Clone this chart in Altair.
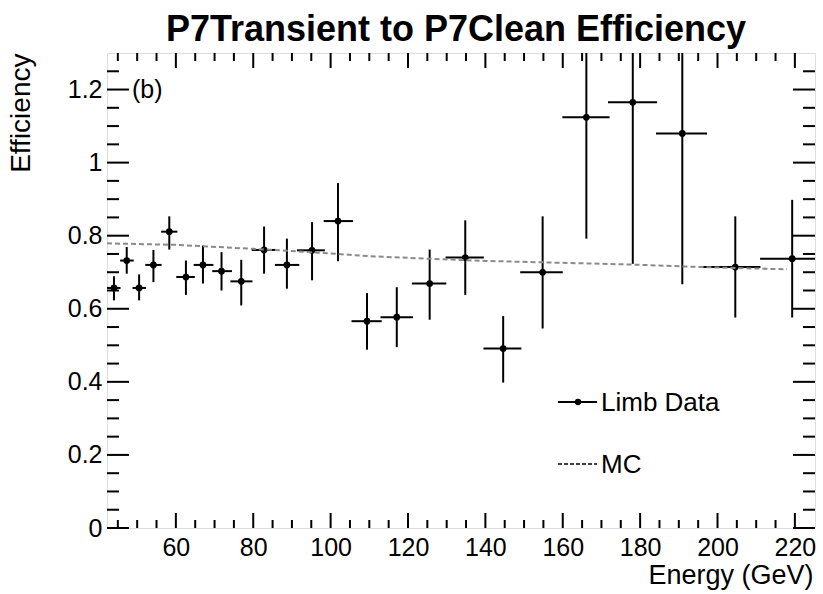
import altair as alt
import pandas as pd

# ---- data (values beyond the frame are cut at the frame edge) ----
energy = [44.0, 47.3, 50.5, 54.2, 58.3, 62.6, 67.0, 71.8, 76.9, 82.8, 88.7, 95.2,
          101.9, 109.4, 117.1, 125.6, 134.8, 144.6, 154.8, 166.1, 178.1, 190.9, 204.6, 219.3]
eff = [0.657, 0.732, 0.657, 0.720, 0.811, 0.687, 0.720, 0.703, 0.675, 0.761, 0.720, 0.760,
       0.840, 0.566, 0.577, 0.669, 0.740, 0.491, 0.700, 1.124, 1.165, 1.080, 0.714, 0.737]
eff_lo = [0.623, 0.696, 0.623, 0.673, 0.762, 0.638, 0.669, 0.650, 0.609, 0.696, 0.655, 0.678,
          0.730, 0.488, 0.495, 0.570, 0.638, 0.398, 0.546, 0.792, 0.723, 0.667, 0.576, 0.576]
eff_hi = [0.689, 0.769, 0.694, 0.761, 0.853, 0.732, 0.773, 0.755, 0.734, 0.825, 0.792, 0.837,
          0.944, 0.643, 0.659, 0.762, 0.842, 0.580, 0.853, 1.3, 1.3, 1.3, 0.853, 0.898]
bin_lo = [42.2, 45.6, 48.8, 52.1, 56.2, 60.1, 64.6, 69.4, 74.1, 79.6, 85.6, 91.3,
          98.2, 105.4, 112.9, 121.0, 129.7, 139.5, 149.0, 159.9, 171.7, 184.1, 196.3, 211.0]
bin_hi = [45.7, 49.1, 52.3, 56.3, 60.4, 64.9, 69.7, 74.5, 79.8, 85.9, 91.9, 98.5,
          105.8, 113.2, 121.3, 129.9, 139.6, 149.3, 160.0, 172.1, 184.4, 197.3, 211.1, 225.2]

mc_energy = [42.2, 60, 80, 95, 110, 125, 140, 155, 178, 196, 218]
mc_eff = [0.779, 0.775, 0.764, 0.755, 0.744, 0.737, 0.731, 0.727, 0.721, 0.714, 0.708]

x_major = [60, 80, 100, 120, 140, 160, 180, 200, 220]
x_minor = [45, 50, 55, 65, 70, 75, 85, 90, 95, 105, 110, 115, 125, 130, 135, 145, 150, 155,
           165, 170, 175, 185, 190, 195, 205, 210, 215]
y_major = [0, 0.2, 0.4, 0.6, 0.8, 1.0, 1.2]
y_minor = [0.05, 0.1, 0.15, 0.25, 0.3, 0.35, 0.45, 0.5, 0.55, 0.65, 0.7, 0.75, 0.85, 0.9, 0.95,
           1.05, 1.1, 1.15, 1.25]

W, H = 708, 475
FONT = "Liberation Sans"

df = pd.DataFrame({"E": energy, "eff": eff, "lo": eff_lo, "hi": eff_hi,
                   "xlo": bin_lo, "xhi": bin_hi})
mc = pd.DataFrame({"E": mc_energy, "eff": mc_eff})

xs = alt.Scale(domain=[42.2, 225.2], nice=False, zero=False)
ys = alt.Scale(domain=[0, 1.3], nice=False, zero=True)

x_axis = alt.Axis(values=x_major, ticks=False, domain=False, grid=False,
                  labelFont=FONT, labelFontSize=25, labelColor="black", labelPadding=7,
                  title="Energy (GeV)", titleFont=FONT, titleFontSize=27,
                  titleFontWeight="normal", titleColor="black", titleAnchor="end",
                  titleAlign="right", titleBaseline="alphabetic", titleX=W - 2, titleY=55,
                  labelFlush=False, labelOverlap=False)
y_axis = alt.Axis(values=y_major, format="~g", ticks=False, domain=False, grid=False,
                  labelFont=FONT, labelFontSize=25, labelColor="black", labelPadding=5,
                  title="Efficiency", titleFont=FONT, titleFontSize=28,
                  titleFontWeight="normal", titleColor="black", titleAngle=270,
                  titleAlign="right", titleBaseline="alphabetic", titleX=-78, titleY=0,
                  labelFlush=False, labelOverlap=False)

def X(field):
    return alt.X(field, scale=xs, axis=x_axis, title="Energy (GeV)")

def Y(field):
    return alt.Y(field, scale=ys, axis=y_axis, title="Efficiency")

base = alt.Chart(df)

vbars = base.mark_rule(color="black", strokeWidth=2).encode(
    x=X("E:Q"), y=Y("lo:Q"), y2="hi:Q")
hbars = base.mark_rule(color="black", strokeWidth=2).encode(
    x=X("xlo:Q"), x2="xhi:Q", y=Y("eff:Q"))
points = base.mark_circle(color="black", opacity=1, size=45).encode(
    x=X("E:Q"), y=Y("eff:Q"))
mc_line = alt.Chart(mc).mark_line(color="#8a8a8a", strokeWidth=2, strokeDash=[5, 3]).encode(
    x=X("E:Q"), y=Y("eff:Q"))

def xticks(vals, length):
    d = pd.DataFrame({"v": vals})
    bottom = alt.Chart(d).mark_rule(color="black", strokeWidth=2).encode(
        x=X("v:Q"), y=alt.value(H), y2=alt.value(H - length))
    top = alt.Chart(d).mark_rule(color="black", strokeWidth=2).encode(
        x=X("v:Q"), y=alt.value(0), y2=alt.value(length))
    return [bottom, top]

def yticks(vals, length):
    d = pd.DataFrame({"v": vals})
    left = alt.Chart(d).mark_rule(color="black", strokeWidth=2).encode(
        y=Y("v:Q"), x=alt.value(0), x2=alt.value(length))
    right = alt.Chart(d).mark_rule(color="black", strokeWidth=2).encode(
        y=Y("v:Q"), x=alt.value(W), x2=alt.value(W - length))
    return [left, right]

tick_layers = xticks(x_major, 15) + xticks(x_minor, 8) + yticks(y_major, 22) + yticks(y_minor, 12)

# ---- legend and panel label ----
one = pd.DataFrame({"t": ["(b)"]})
leg_data_line = alt.Chart(one).mark_rule(color="black", strokeWidth=2).encode(
    x=alt.value(451), x2=alt.value(490), y=alt.value(349))
leg_data_dot = alt.Chart(one).mark_circle(color="black", opacity=1, size=40).encode(
    x=alt.value(471), y=alt.value(349))
leg_mc_line = alt.Chart(one).mark_rule(color="black", strokeWidth=1.5, strokeDash=[4, 2]).encode(
    x=alt.value(451), x2=alt.value(490), y=alt.value(411))
leg_text1 = alt.Chart(one).mark_text(text="Limb Data", font=FONT, fontSize=26, align="left",
                                     baseline="middle", color="black").encode(
    x=alt.value(494), y=alt.value(350))
leg_text2 = alt.Chart(one).mark_text(text="MC", font=FONT, fontSize=26, align="left",
                                     baseline="middle", color="black").encode(
    x=alt.value(494), y=alt.value(412))
panel = alt.Chart(one).mark_text(text="(b)", font=FONT, fontSize=25, align="left",
                                 baseline="middle", color="black").encode(
    x=alt.value(25), y=alt.value(37))

chart = alt.layer(
    vbars, hbars, points, mc_line, *tick_layers,
    leg_data_line, leg_data_dot, leg_mc_line, leg_text1, leg_text2, panel,
).properties(
    width=W, height=H,
    title=alt.TitleParams("P7Transient to P7Clean Efficiency", font=FONT, fontSize=36,
                          fontWeight="bold", color="black", anchor="middle",
                          baseline="alphabetic", offset=12, dx=-5, dy=37),
    autosize=alt.AutoSizeParams(type="none"),
    padding={"left": 107, "top": 53, "right": 8, "bottom": 66},
).configure_view(
    stroke="black", strokeWidth=2
).configure(background="white")

chart.save("out.html", embed_options={"renderer": "svg", "actions": False})
